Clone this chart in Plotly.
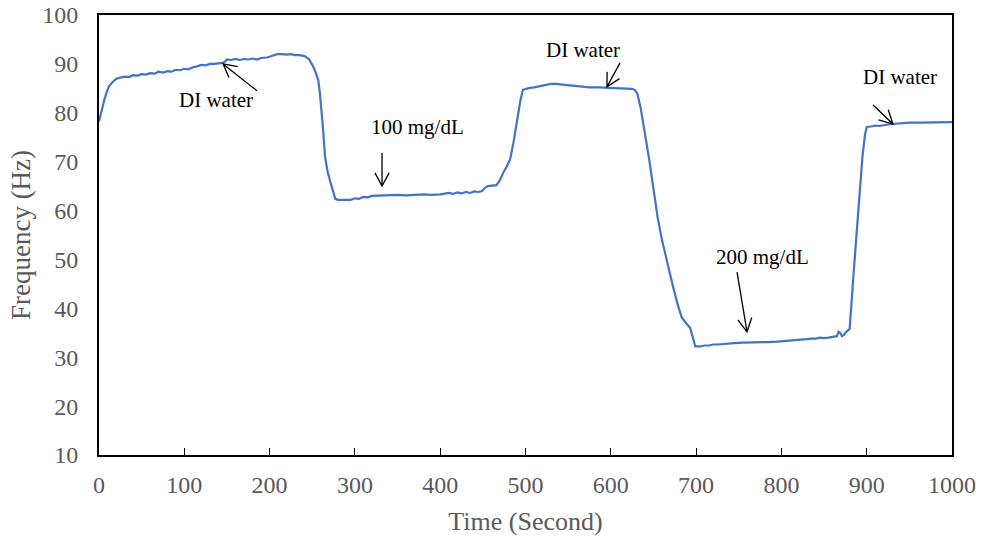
import math
import plotly.graph_objects as go

# ---------------- data ----------------
time_s = [0, 3, 6, 9, 12, 16, 20, 25, 30, 35, 40, 45, 50, 55, 60, 65, 70, 75, 80, 85, 90, 95, 100,
          105, 110, 115, 120, 125, 130, 135, 140, 145, 148, 150, 155, 160, 165, 170, 175, 180, 185,
          190, 197, 203, 209, 215, 220, 225, 230, 235, 241, 246, 251, 254, 257, 259, 261, 263, 265,
          268, 271, 274, 277, 280, 285, 290, 295, 300, 305, 310, 315, 320, 330, 340, 350, 360, 370,
          380, 390, 400, 410, 415, 420, 425, 430, 435, 440, 445, 449, 453, 456, 460, 466, 470, 474,
          478, 482, 486, 490, 494, 497, 500, 505, 510, 515, 520, 525, 530, 535, 540, 545, 550, 555,
          560, 565, 570, 575, 585, 595, 605, 615, 625, 628, 631, 635, 640, 645, 650, 655, 660, 666,
          670, 673, 678, 683, 688, 693, 696, 699, 705, 710, 715, 720, 725, 735, 745, 755, 765, 775,
          785, 795, 805, 810, 815, 820, 825, 830, 835, 840, 845, 850, 855, 860, 862, 865, 867, 869,
          871, 873, 876, 880, 885, 890, 895, 898, 900, 905, 910, 915, 920, 925, 930, 935, 940, 950,
          960, 970, 980, 990, 1000]
freq_hz = [78.2, 80.5, 82.5, 84.2, 85.5, 86.3, 86.9, 87.2, 87.4, 87.3, 87.7, 87.6, 87.9, 87.8, 88.1,
           88.0, 88.4, 88.2, 88.5, 88.4, 88.8, 88.7, 89.0, 88.9, 89.3, 89.5, 89.8, 89.7, 90.0, 90.0,
           90.1, 90.2, 90.5, 90.9, 90.8, 91.0, 90.8, 91.0, 90.9, 91.1, 90.9, 91.2, 91.3, 91.7, 92.0,
           92.0, 91.9, 92.0, 91.8, 91.8, 91.6, 91.0, 89.5, 88.2, 86.7, 84.0, 80.6, 76.0, 71.0, 68.0,
           66.0, 64.0, 62.4, 62.2, 62.2, 62.3, 62.2, 62.5, 62.4, 62.8, 62.7, 63.0, 63.1, 63.1, 63.2,
           63.1, 63.2, 63.3, 63.2, 63.3, 63.6, 63.4, 63.7, 63.5, 63.8, 63.6, 63.9, 63.8, 64.0, 64.7,
           65.0, 65.1, 65.2, 66.2, 67.8, 69.0, 70.5, 74.0, 78.5, 82.5, 84.7, 84.9, 85.1, 85.2, 85.4,
           85.6, 85.8, 85.9, 85.9, 85.8, 85.7, 85.6, 85.5, 85.4, 85.3, 85.3, 85.2, 85.2, 85.1, 85.0,
           85.0, 84.9, 84.7, 84.0, 81.0, 76.0, 70.5, 64.5, 58.5, 54.0, 49.3, 46.5, 44.4, 41.0, 38.2,
           37.0, 36.0, 34.2, 32.2, 32.2, 32.4, 32.4, 32.6, 32.6, 32.8, 32.9, 33.0, 33.0, 33.0, 33.1,
           33.2, 33.3, 33.5, 33.4, 33.6, 33.5, 33.7, 33.8, 33.8, 34.0, 33.9, 34.0, 34.1, 34.2, 34.3,
           35.2, 35.0, 34.3, 34.5, 35.2, 35.8, 48.0, 60.0, 71.0, 75.5, 77.1, 77.2, 77.4, 77.3, 77.5,
           77.6, 77.7, 77.8, 77.9, 78.0, 78.0, 78.0, 78.1, 78.1, 78.1]

x_ticks = [0, 100, 200, 300, 400, 500, 600, 700, 800, 900, 1000]
y_ticks = [10, 20, 30, 40, 50, 60, 70, 80, 90, 100]

# annotation labels: (text, text_x, text_y, arrow_tail_x, arrow_tail_y, arrow_tip_x, arrow_tip_y)
notes = [
    ("DI water", 137, 82.6, 185.2, 84.5, 145.4, 90.0),
    ("100 mg/dL", 372.8, 77.1, 331.8, 71.8, 331.8, 65.0),
    ("DI water", 567.4, 92.8, 610.8, 90.2, 595.5, 85.3),
    ("200 mg/dL", 778.4, 50.5, 748.0, 47.4, 759.7, 35.2),
    ("DI water", 939.0, 87.3, 907.4, 81.6, 930.8, 77.7),
]

# ---------------- layout geometry ----------------
W, H = 982, 539
ML, MR, MT, MB = 99, 30, 15, 84
X0, X1 = 0, 1000
Y0, Y1 = 10, 100
pw, ph = W - ML - MR, H - MT - MB
sx = pw / (X1 - X0)   # px per x unit
sy = ph / (Y1 - Y0)   # px per y unit

fig = go.Figure()
fig.add_trace(go.Scatter(x=time_s, y=freq_hz, mode="lines",
                         line=dict(color="#4472C4", width=2.2), showlegend=False,
                         hoverinfo="x+y"))

serif = "Liberation Serif, Times New Roman, serif"
shapes = []
annotations = []
head_len = 15.0
head_ang = math.radians(28)
for text, tx, ty, ax, ay, hx, hy in notes:
    annotations.append(dict(x=tx, y=ty, xref="x", yref="y", text=text, showarrow=False,
                            font=dict(family=serif, size=21, color="black"),
                            xanchor="center", yanchor="middle"))
    dx = (hx - ax) * sx
    dy = (hy - ay) * sy
    L = math.hypot(dx, dy)
    ux, uy = dx / L, dy / L
    pts = []
    for sgn in (1, -1):
        c, s = math.cos(sgn * head_ang), math.sin(sgn * head_ang)
        bx = -(ux * c - uy * s) * head_len
        by = -(ux * s + uy * c) * head_len
        pts.append((hx + bx / sx, hy + by / sy))
    path = (f"M {ax},{ay} L {hx},{hy} "
            f"M {pts[0][0]},{pts[0][1]} L {hx},{hy} L {pts[1][0]},{pts[1][1]}")
    shapes.append(dict(type="path", xref="x", yref="y", path=path,
                       line=dict(color="black", width=1.3)))

fig.update_layout(
    width=W, height=H,
    margin=dict(l=ML, r=MR, t=MT, b=MB, pad=0, autoexpand=False),
    paper_bgcolor="white", plot_bgcolor="white",
    font=dict(family=serif, color="#595959"),
    shapes=shapes, annotations=annotations,
    xaxis=dict(range=[X0, X1], tickvals=x_ticks, ticks="inside", ticklen=7, tickwidth=1.3,
               tickcolor="black", showgrid=False, zeroline=False, automargin=False,
               showline=True, linecolor="black", linewidth=2, mirror=True,
               tickfont=dict(family=serif, size=24, color="#595959"), ticklabelstandoff=7,
               title=dict(text="Time (Second)", font=dict(family=serif, size=26, color="#595959"),
                          standoff=15)),
    yaxis=dict(range=[Y0, Y1], tickvals=y_ticks, ticks="", showgrid=False, zeroline=False,
               automargin=False,
               showline=True, linecolor="black", linewidth=2, mirror=True,
               tickfont=dict(family=serif, size=24, color="#595959"), ticklabelstandoff=14,
               title=dict(text="Frequency (Hz)", font=dict(family=serif, size=27, color="#595959"),
                          standoff=4)),
)

fig.write_html("out.html")
